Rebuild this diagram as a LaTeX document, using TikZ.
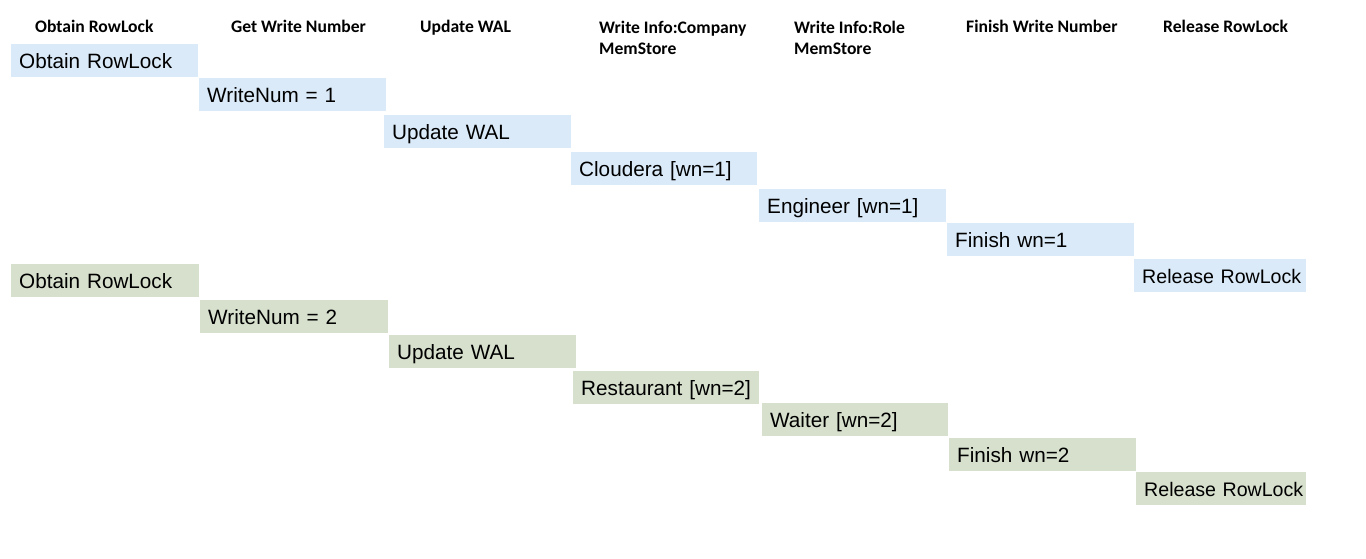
\documentclass[tikz,border=0pt]{standalone}
\usepackage{fontspec}
\setmainfont{Liberation Sans}
\newfontfamily\hdrfont{Carlito}
\definecolor{bluebox}{RGB}{218,234,248}
\definecolor{greenbox}{RGB}{214,224,205}
\tikzset{
  hdr/.style={anchor=base west, inner sep=0pt, font=\hdrfont\bfseries\fontsize{17.6}{21}\selectfont, align=left},
  stepbox/.style={anchor=north west, inner xsep=8pt, inner ysep=0pt, minimum height=33pt,
    text height=19pt, text depth=4pt, align=left, font=\fontsize{20.7}{24}\selectfont},
  relbox/.style={inner xsep=0pt, text width=172pt, font=\fontsize{19.6}{24}\selectfont},
  bb/.style={stepbox, fill=bluebox},
  gb/.style={stepbox, fill=greenbox},
}
\begin{document}
\begin{tikzpicture}[x=1pt,y=-1pt]
\useasboundingbox (0,0) rectangle (1366,558);
% headers
\node[hdr] (h1) at (35,32) {Obtain RowLock};
\node[hdr] (h2) at (231,32) {Get Write Number};
\node[hdr] (h3) at (420,32) {Update WAL};
\node[hdr, anchor=north west] (h4) at (599,20.5) {Write Info:Company\\MemStore};
\node[hdr, anchor=north west] (h5) at (794,20.5) {Write Info:Role\\MemStore};
\node[hdr] (h6) at (966,32) {Finish Write Number};
\node[hdr] (h7) at (1163,32) {Release RowLock};
% blue sequence
\node[bb, text width=171pt] (b1) at (11,44) {Obtain RowLock};
\node[bb, text width=171pt] (b2) at (199,78) {WriteNum = 1};
\node[bb, text width=171pt] (b3) at (384,115) {Update WAL};
\node[bb, text width=170pt] (b4) at (571,152) {Cloudera [wn=1]};
\node[bb, text width=171pt] (b5) at (759,189) {Engineer [wn=1]};
\node[bb, text width=171pt] (b6) at (947,223) {Finish wn=1};
\node[bb, relbox] (b7) at (1134,259) {\hspace*{8pt}Release RowLock};
% green sequence
\node[gb, text width=172pt] (g1) at (11,264) {Obtain RowLock};
\node[gb, text width=172pt] (g2) at (200,300) {WriteNum = 2};
\node[gb, text width=171pt] (g3) at (389,335) {Update WAL};
\node[gb, text width=170pt] (g4) at (573,371) {Restaurant [wn=2]};
\node[gb, text width=170pt] (g5) at (762,403) {Waiter [wn=2]};
\node[gb, text width=171pt] (g6) at (949,438) {Finish wn=2};
\node[gb, relbox, text width=170pt] (g7) at (1136,472) {\hspace*{8pt}Release RowLock};
\end{tikzpicture}
\end{document}
